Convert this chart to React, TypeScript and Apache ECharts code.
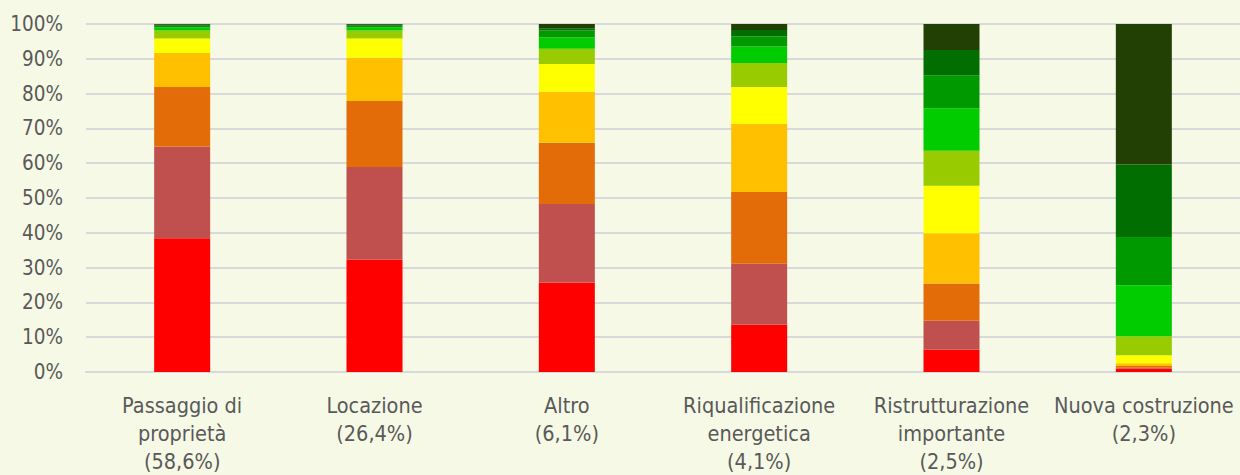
import React, { useEffect, useRef } from "react";
import * as echarts from "echarts";

const categories = [
  "Passaggio di\nproprietà\n(58,6%)",
  "Locazione\n(26,4%)",
  "Altro\n(6,1%)",
  "Riqualificazione\nenergetica\n(4,1%)",
  "Ristrutturazione\nimportante\n(2,5%)",
  "Nuova costruzione\n(2,3%)",
];

const classNames = ["G", "F", "E", "D", "C", "B", "A1", "A2", "A3", "A4"];

const classG = [38.4, 32.3, 25.7, 13.6, 6.4, 0.9];
const classF = [26.4, 26.6, 22.6, 17.5, 8.3, 0.3];
const classE = [17.1, 19.0, 17.6, 20.6, 10.7, 0.5];
const classD = [9.8, 12.4, 14.6, 19.6, 14.5, 0.8];
const classC = [4.1, 5.5, 8.0, 10.6, 13.6, 2.3];
const classB = [2.3, 2.3, 4.4, 6.9, 10.1, 5.5];
const classA1 = [0.9, 1.0, 3.2, 4.7, 12.2, 14.6];
const classA2 = [0.5, 0.4, 2.0, 2.9, 9.5, 13.9];
const classA3 = [0.3, 0.3, 0.7, 1.9, 7.2, 20.8];
const classA4 = [0.2, 0.2, 1.2, 1.7, 7.5, 40.4];

const yTicks = [0, 10, 20, 30, 40, 50, 60, 70, 80, 90, 100];

const seriesData = [classG, classF, classE, classD, classC, classB, classA1, classA2, classA3, classA4];
const colors = [
  "#FF0000",
  "#C0504D",
  "#E36C09",
  "#FFC000",
  "#FFFF00",
  "#99CC00",
  "#00CC00",
  "#009900",
  "#006E00",
  "#224003",
];

const FONT = "'DejaVu Sans Condensed', 'Liberation Sans Narrow', 'Liberation Sans', sans-serif";

export default function App() {
  const ref = useRef<HTMLDivElement>(null);

  useEffect(() => {
    document.body.style.margin = "0";
    if (!ref.current) return;
    const chart = echarts.init(ref.current, null, { renderer: "svg" });
    chart.setOption({
      animation: false,
      backgroundColor: "#F6F9E6",
      grid: { left: 86, top: 24, width: 1164, height: 351, containLabel: false },
      xAxis: {
        type: "category",
        data: categories,
        axisLine: { show: true, lineStyle: { color: "#D9D9D9", width: 2 } },
        axisTick: { show: false },
        axisLabel: {
          color: "#595959",
          fontFamily: FONT,
          fontSize: 21.5,
          lineHeight: 28,
          margin: 19,
          interval: 0,
        },
      },
      yAxis: {
        type: "value",
        min: 0,
        max: 100,
        interval: 10,
        axisLine: { show: false },
        axisTick: { show: false },
        splitLine: { lineStyle: { color: "#D9D9D9", width: 2 } },
        axisLabel: {
          color: "#595959",
          fontFamily: FONT,
          fontSize: 20.5,
          margin: 23,
          formatter: (v: number) => (yTicks.includes(v) ? v + "%" : ""),
        },
      },
      series: seriesData.map((d, i) => ({
        name: classNames[i],
        type: "bar",
        stack: "total",
        barWidth: 56,
        data: d,
        itemStyle: { color: colors[i] },
      })),
    });
    return () => chart.dispose();
  }, []);

  return <div ref={ref} style={{ width: 1240, height: 475 }} />;
}
